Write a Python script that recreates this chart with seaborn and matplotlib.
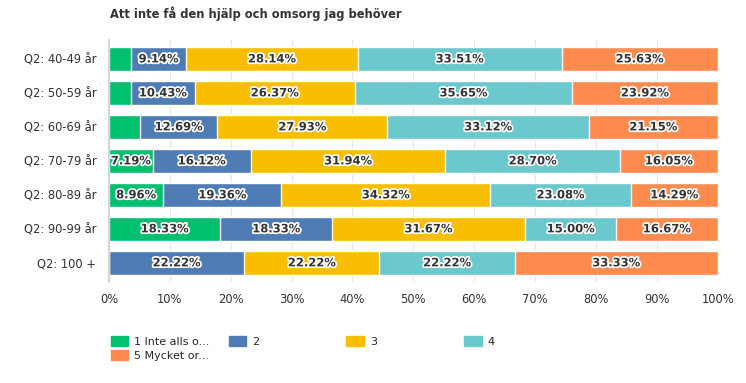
import numpy as np
import pandas as pd
import seaborn as sns
from matplotlib import pyplot as plt
import matplotlib.patheffects as pe
from matplotlib.patches import Patch

categories = ["Q2: 40-49 år", "Q2: 50-59 år", "Q2: 60-69 år", "Q2: 70-79 år",
              "Q2: 80-89 år", "Q2: 90-99 år", "Q2: 100 +"]
series = ["1 Inte alls o...", "2", "3", "4", "5 Mycket or..."]
s1 = [3.58, 3.63, 5.11, 7.19, 8.96, 18.33, 0.0]
s2 = [9.14, 10.43, 12.69, 16.12, 19.36, 18.33, 22.22]
s3 = [28.14, 26.37, 27.93, 31.94, 34.32, 31.67, 22.22]
s4 = [33.51, 35.65, 33.12, 28.70, 23.08, 15.00, 22.22]
s5 = [25.63, 23.92, 21.15, 16.05, 14.29, 16.67, 33.33]
colors = ["#00BF6F", "#507CB6", "#F9BE00", "#6BC8CD", "#FF8B4F"]

sns.set_theme(style="white")
plt.rcParams["font.family"] = ["DejaVu Sans"]

values = np.array([s1, s2, s3, s4, s5])
cum = values.cumsum(axis=0)
df = pd.DataFrame({"cat": categories})

fig = plt.figure(figsize=(7.46, 3.83), dpi=100)
ax = fig.add_axes([0.146, 0.265, 0.816, 0.63])

# draw cumulative bars from the back so each segment shows
for i in range(len(series) - 1, -1, -1):
    df["v"] = cum[i]
    sns.barplot(data=df, x="v", y="cat", color=colors[i], width=0.72,
                saturation=1, ax=ax, orient="h")

for i in range(len(series)):
    for j in range(len(categories)):
        v = values[i, j]
        if v < 6:
            continue
        xc = cum[i, j] - v / 2
        ax.text(xc, j, f"{v:.2f}%", ha="center", va="center", fontsize=8.3,
                color="#333333", fontweight="bold",
                path_effects=[pe.withStroke(linewidth=2.5, foreground="white")])

ax.set_xlim(0, 100)
ax.set_ylim(6.55, -0.55)
ax.set_xticks(np.arange(0, 101, 10))
ax.set_xticklabels([f"{t}%" for t in range(0, 101, 10)])
ax.tick_params(axis="both", labelsize=8.3, colors="#333333", length=0)
ax.tick_params(axis="y", pad=9)
ax.tick_params(axis="x", pad=8)
ax.set_xlabel("")
ax.set_ylabel("")
ax.grid(axis="x", color="#e6e6e6", linewidth=0.8)
ax.set_axisbelow(True)
for s in ["top", "right", "bottom"]:
    ax.spines[s].set_visible(False)
ax.spines["left"].set_color("#d0d0d0")

fig.text(0.147, 0.963, "Att inte få den hjälp och omsorg jag behöver",
         fontsize=8.3, fontweight="bold", color="#333333", va="center")

# legend: four evenly spaced columns, fifth item wraps under the first
handles = [Patch(facecolor=c, edgecolor=c, label=s) for c, s in zip(colors, series)]
groups = [[handles[0], handles[4]], [handles[1]], [handles[2]], [handles[3]]]
for k, g in enumerate(groups):
    fig.legend(handles=g, loc="upper left", bbox_to_anchor=(0.135 + k * 0.158, 0.148),
               ncol=1, frameon=False, fontsize=8, handlelength=1.6, handleheight=1.0,
               labelspacing=0.25, handletextpad=0.5)

plt.savefig("out.png", dpi=100)
